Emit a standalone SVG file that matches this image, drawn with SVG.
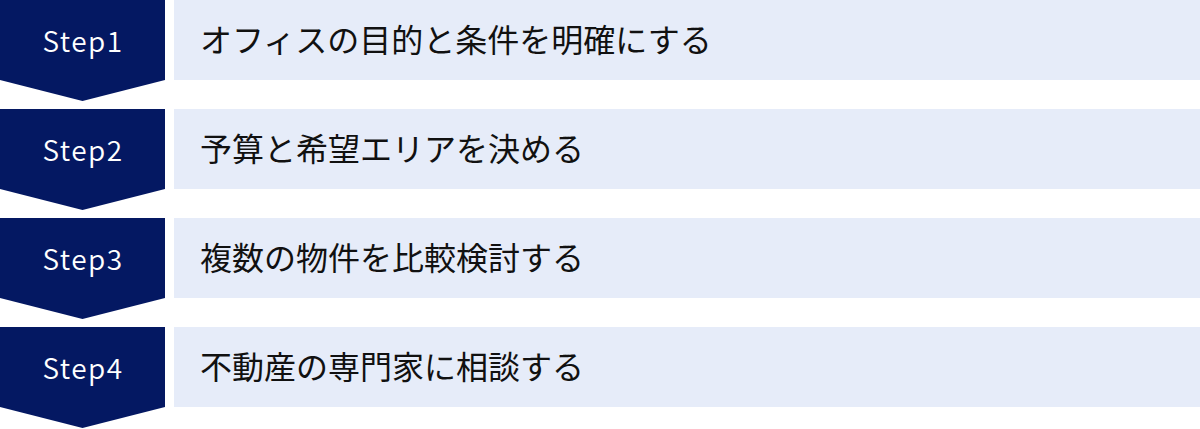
<svg xmlns="http://www.w3.org/2000/svg" width="1200" height="429" viewBox="0 0 1200 429">
<style>
.step{fill:#041862}
.bar{fill:#E6ECF9}
.lbl{font-family:"Noto Sans CJK JP","Noto Sans",sans-serif;font-size:28px;font-weight:350;fill:#ffffff;text-anchor:middle;letter-spacing:1.5px}
.txt{font-family:"Noto Sans CJK JP","Noto Sans",sans-serif;font-size:32px;fill:#111111}
</style>
<g id="connectors"></g>
<g id="step1">
<polygon class="step" points="0,0 165,0 165,80 82.5,101 0,80"/>
<text class="lbl" x="83" y="51.5">Step1</text>
<rect class="bar" x="174" y="0" width="1026" height="80"/>
<text class="txt" x="200" y="52">オフィスの目的と条件を明確にする</text>
</g>
<g id="step2">
<polygon class="step" points="0,109 165,109 165,189 82.5,210 0,189"/>
<text class="lbl" x="83" y="160.5">Step2</text>
<rect class="bar" x="174" y="109" width="1026" height="80"/>
<text class="txt" x="200" y="161">予算と希望エリアを決める</text>
</g>
<g id="step3">
<polygon class="step" points="0,218 165,218 165,298 82.5,319 0,298"/>
<text class="lbl" x="83" y="269.5">Step3</text>
<rect class="bar" x="174" y="218" width="1026" height="80"/>
<text class="txt" x="200" y="270">複数の物件を比較検討する</text>
</g>
<g id="step4">
<polygon class="step" points="0,327 165,327 165,407 82.5,428 0,407"/>
<text class="lbl" x="83" y="378.5">Step4</text>
<rect class="bar" x="174" y="327" width="1026" height="80"/>
<text class="txt" x="200" y="379">不動産の専門家に相談する</text>
</g>
</svg>
